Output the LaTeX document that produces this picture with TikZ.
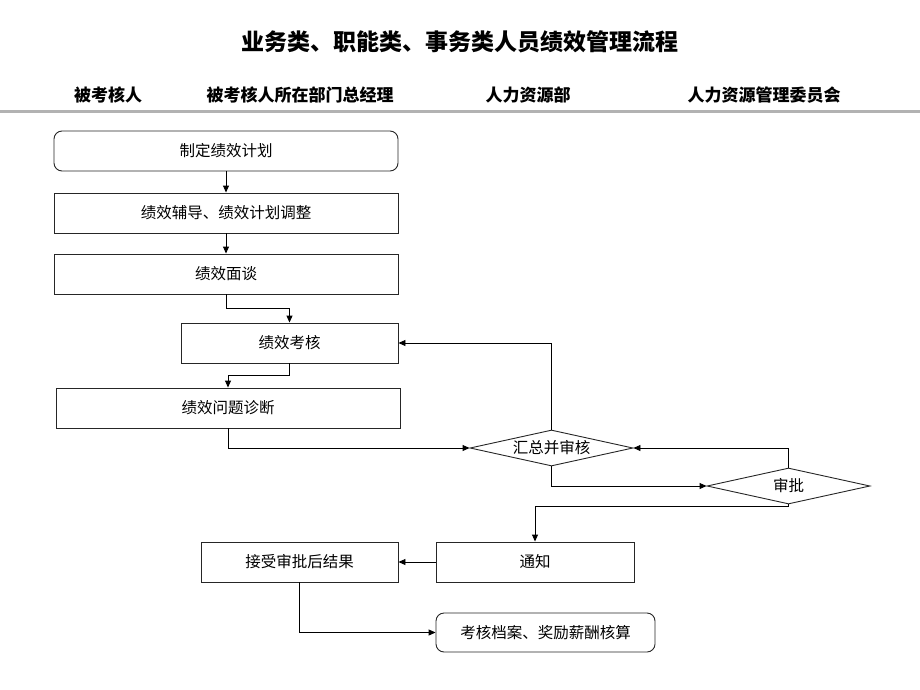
\documentclass[tikz,border=0pt]{standalone}
\usepackage{fontspec}
\setmainfont{Noto Sans CJK SC}
\usetikzlibrary{shapes.geometric,arrows.meta}
\tikzset{
  box/.style={draw=black!85, line width=0.9pt, minimum height=40pt, inner sep=0pt, font=\fontsize{15.5}{16}\selectfont},
  rbox/.style={box, rounded corners=8pt},
  dia/.style={diamond, aspect=4.5, draw=black!85, line width=0.9pt, minimum width=163pt, minimum height=36pt, inner sep=0pt, font=\fontsize{15.5}{16}\selectfont},
  hdr/.style={font=\fontsize{17}{18}\selectfont\bfseries},
  arr/.style={draw=black, line width=0.9pt, -{Triangle[length=7pt,width=6pt]}},
}
\begin{document}
\begin{tikzpicture}[x=1pt,y=-1pt]
\useasboundingbox (0,0) rectangle (920,690);
\node[font=\fontsize{23}{24}\selectfont\bfseries] (title) at (460,42) {业务类、职能类、事务类人员绩效管理流程};
\node[hdr] (h1) at (108,95) {被考核人};
\node[hdr] (h2) at (300,95) {被考核人所在部门总经理};
\node[hdr] (h3) at (528,95) {人力资源部};
\node[hdr] (h4) at (764,95) {人力资源管理委员会};
\draw[gray!60, line width=3pt] (0,112) coordinate (r1) -- (920,112) coordinate (r2);

\node[rbox, minimum width=344pt] (p1) at (226,151) {制定绩效计划};
\node[box, minimum width=344pt] (p2) at (226,213) {绩效辅导、绩效计划调整};
\node[box, minimum width=344pt] (p3) at (226,274) {绩效面谈};
\node[box, minimum width=217pt] (p4) at (289.5,343) {绩效考核};
\node[box, minimum width=344pt] (p5) at (228,408) {绩效问题诊断};
\node[dia] (d1) at (551.5,448) {汇总并审核};
\node[dia] (d2) at (788.5,486) {审批};
\node[box, minimum width=198pt] (p6) at (535,562) {通知};
\node[box, minimum width=197pt] (p7) at (299.5,562) {接受审批后结果};
\node[rbox, minimum width=219pt, minimum height=39pt] (p8) at (545.5,632.5) {考核档案、奖励薪酬核算};

\draw[arr] (p1) -- (p2);
\draw[arr] (p2) -- (p3);
\draw[arr] (p3.south) -- ++(0,14) -| (p4.north);
\draw[arr] (p4.south) -- ++(0,12) -| (p5.north);
\draw[arr] (p5.south) |- (d1.west);
\draw[arr] (d1.north) |- (p4.east);
\draw[arr] (d1.south) |- (d2.west);
\draw[arr] (d2.north) |- (d1.east);
\draw[arr] (d2.south) -- ++(0,2) -| (p6.north);
\draw[arr] (p6.west) -- (p7.east);
\draw[arr] (p7.south) |- (p8.west);
\end{tikzpicture}
\end{document}
